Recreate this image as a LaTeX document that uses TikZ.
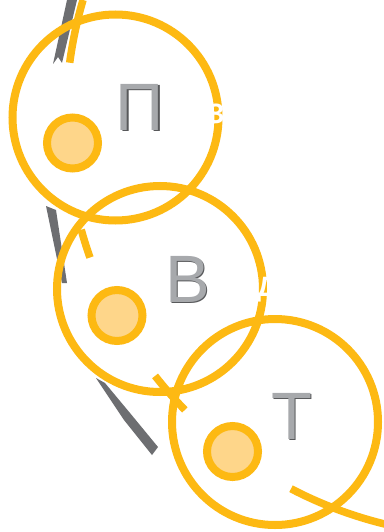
\documentclass[tikz,border=0pt]{standalone}
\usepackage{fontspec}
\setmainfont{Liberation Sans}
\definecolor{gold}{HTML}{FDB913}
\definecolor{pale}{HTML}{FED68A}
\definecolor{slate}{HTML}{6D6E71}
\definecolor{lettergrey}{HTML}{A7A9AC}
\definecolor{letterdark}{HTML}{58595B}
\begin{document}
\begin{tikzpicture}[x=1pt,y=-1pt,
  ring/.style={circle,draw=gold,line width=8pt,minimum size=206pt,inner sep=0pt},
  dot/.style={circle,draw=gold,fill=pale,line width=8pt,minimum size=51pt,inner sep=0pt},
  band/.style={draw=gold,line width=7.5pt},
  ribbon/.style={fill=slate,draw=none},
  lettershadow/.style={anchor=base,text=letterdark,font=\fontsize{67}{67}\selectfont,inner sep=0pt},
  letterface/.style={anchor=base,text=lettergrey,font=\fontsize{67}{67}\selectfont,inner sep=0pt},
  ghost/.style={anchor=base west,text=white,font=\bfseries\fontsize{28}{28}\selectfont,inner sep=0pt}]
\useasboundingbox (0,0) rectangle (383,532);
\fill[white] (0,0) rectangle (383,532);
% grey ribbon pieces
\fill[ribbon] (67,0) -- (77,0) -- (62,63) -- (58,57) -- (53,64) -- cycle;
\fill[ribbon] (46,206) -- (56,210) -- (67,283) -- (62,283) -- cycle;
\fill[ribbon] (96,378) -- (105,383) -- (130,413) -- (158,447) -- (152,455) -- (124,420) -- cycle;
% yellow arc pieces
\coordinate (yc) at (484,118);
\draw[band] (yc) ++(196.4:418) arc[start angle=196.4,end angle=187.6,radius=418];
\draw[band] (yc) ++(164.5:418) arc[start angle=164.5,end angle=160.5,radius=418];
\draw[band] (yc) ++(141.9:418) arc[start angle=141.9,end angle=135.7,radius=418];
\draw[band] (yc) ++(117.5:418) arc[start angle=117.5,end angle=102,radius=418];
% big circles
\node[ring] (c1) at (115.5,117.5) {};
\node[ring] (c2) at (160,289) {};
\node[ring] (c3) at (275,422) {};
% small circles
\node[dot] (s1) at (72.5,143) {};
\node[dot] (s2) at (117,315.5) {};
\node[dot] (s3) at (232.5,451.5) {};
% white labels (only visible on rings)
\node[ghost] (w1) at (207,123) {З.};
\node[ghost] (w2) at (257,296) {Д};
% letters
\node[lettershadow] (p0) at (141.2,131.2) {П};
\node[letterface] (p) at (140,130) {П};
\node[lettershadow] (v0) at (189.2,303.2) {В};
\node[letterface] (v) at (188,302) {В};
\node[lettershadow] (t0) at (293.2,440.2) {Т};
\node[letterface] (t) at (292,439) {Т};
\end{tikzpicture}
\end{document}
